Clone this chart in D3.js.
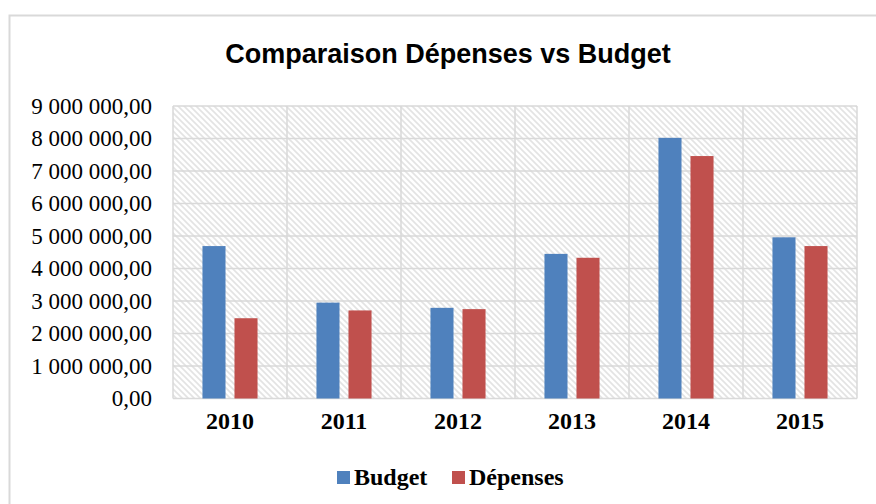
<!DOCTYPE html>
<html>
<head>
<meta charset="utf-8">
<script src="https://cdn.jsdelivr.net/npm/d3@7"></script>
<style>
  html, body { margin: 0; padding: 0; background: #fff; }
  svg { display: block; }
</style>
</head>
<body>
<svg id="SVG" width="876" height="504"></svg>
<script>
// données
const years = ['2010', '2011', '2012', '2013', '2014', '2015'];
const series = ['Budget', 'Dépenses'];
const budget = [4690000, 2950000, 2790000, 4450000, 8020000, 4960000];
const depenses = [2470000, 2710000, 2750000, 4330000, 7460000, 4690000];
const yTicks = [0, 1e6, 2e6, 3e6, 4e6, 5e6, 6e6, 7e6, 8e6, 9e6];
const colors = ['#4f81bd', '#c0504d'];

const svg = d3.select('#SVG');
const plot = { left: 173, right: 857, top: 106, bottom: 398.5 };
const serif = '"Liberation Serif", "Times New Roman", serif';

// cadre du graphique
svg.append('rect').attr('x', 9.5).attr('y', 15.5).attr('width', 900).attr('height', 600)
  .attr('fill', '#fff').attr('stroke', '#d9d9d9').attr('stroke-width', 2);

// motif hachuré du fond
const defs = svg.append('defs');
const pat = defs.append('pattern').attr('id', 'hatch').attr('patternUnits', 'userSpaceOnUse')
  .attr('width', 6).attr('height', 6);
pat.append('rect').attr('width', 6).attr('height', 6).attr('fill', '#fff');
pat.append('path').attr('d', 'M-1,-1 L7,7 M-4,2 L2,8 M4,-2 L10,4')
  .attr('stroke', '#e3e3e3').attr('stroke-width', 1.6);

svg.append('text').attr('x', 448).attr('y', 63).attr('text-anchor', 'middle')
  .style('font-family', '"Liberation Sans", Arial, sans-serif').style('font-weight', 'bold')
  .style('font-size', '27px').attr('fill', '#000')
  .text('Comparaison Dépenses vs Budget');

const x = d3.scaleBand().domain(years).range([plot.left, plot.right]).padding(0);
const xs = d3.scaleBand().domain(series).range([0, x.bandwidth()]).paddingInner(0.28).paddingOuter(0.92);
const y = d3.scaleLinear().domain([0, 9e6]).range([plot.bottom, plot.top]);

svg.append('rect').attr('x', plot.left).attr('y', plot.top)
  .attr('width', plot.right - plot.left).attr('height', plot.bottom - plot.top)
  .attr('fill', 'url(#hatch)');

// grille
const grid = svg.append('g').attr('stroke', '#d9d9d9').attr('stroke-width', 1.5);
grid.selectAll('.h').data(yTicks).enter().append('line')
  .attr('x1', plot.left).attr('x2', plot.right).attr('y1', (d) => y(d)).attr('y2', (d) => y(d));
grid.selectAll('.v').data(years.concat(['end'])).enter().append('line')
  .attr('x1', (d) => d == 'end' ? plot.right : x(d)).attr('x2', (d) => d == 'end' ? plot.right : x(d))
  .attr('y1', plot.top).attr('y2', plot.bottom);

// axe Y
const fr = d3.formatLocale({ decimal: ',', thousands: ' ', grouping: [3], currency: ['', ' €'] });
const fmt = fr.format(',.2f');
const yAxis = svg.append('g').attr('transform', `translate(${plot.left},0)`)
  .call(d3.axisLeft(y).tickValues(yTicks).tickFormat(fmt).tickSize(0).tickPadding(21));
yAxis.select('.domain').remove();
yAxis.selectAll('text').style('font-family', serif)
  .style('font-size', '23px').attr('fill', '#000');

// axe X
const xAxis = svg.append('g').attr('transform', `translate(0,${plot.bottom})`)
  .call(d3.axisBottom(x).tickSize(0).tickPadding(13));
xAxis.select('.domain').remove();
xAxis.selectAll('text').style('font-family', serif)
  .style('font-size', '24px').style('font-weight', 'bold').attr('fill', '#000');

// barres
const data = years.map((yr, i) => ({ year: yr, values: [budget[i], depenses[i]] }));
const groups = svg.selectAll('.yr').data(data).enter().append('g')
  .attr('transform', (d) => `translate(${x(d.year)},0)`);
groups.selectAll('rect').data((d) => d.values.map((v, j) => ({ s: series[j], v, j }))).enter().append('rect')
  .attr('x', (d) => xs(d.s)).attr('width', xs.bandwidth())
  .attr('y', (d) => y(d.v)).attr('height', (d) => y(0) - y(d.v))
  .attr('fill', (d) => colors[d.j]);

// légende
const legendX = [337, 452];
const legend = svg.selectAll('.lg').data(series).enter().append('g')
  .attr('transform', (d, i) => `translate(${legendX[i]},471)`);
legend.append('rect').attr('width', 13).attr('height', 13).attr('fill', (d, i) => colors[i]);
legend.append('text').attr('x', 17).attr('y', 14)
  .style('font-family', serif)
  .style('font-size', '24px').style('font-weight', 'bold').attr('fill', '#000')
  .text((d) => d);
</script>
</body>
</html>
